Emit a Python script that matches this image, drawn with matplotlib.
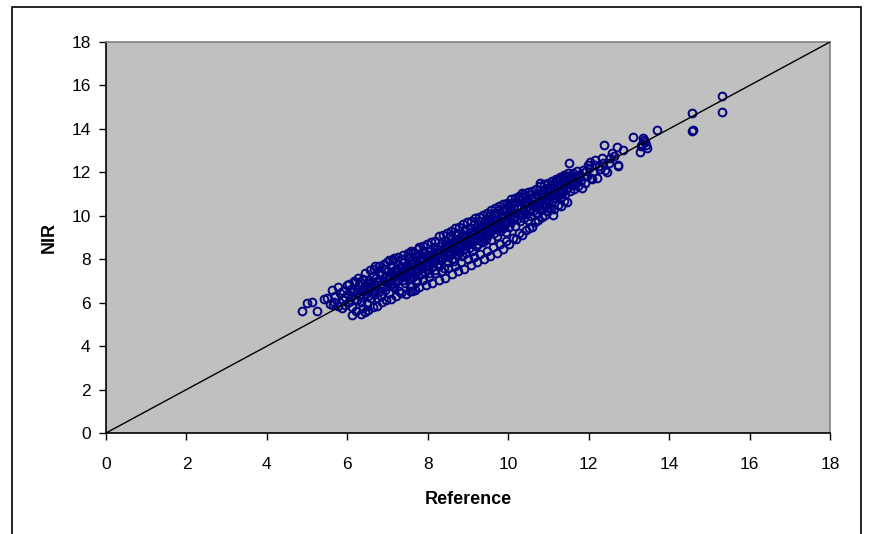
import matplotlib
matplotlib.use("Agg")
import matplotlib.pyplot as plt
from matplotlib.patches import Rectangle

reference = [
    4.87, 4.99, 5.11, 5.24, 5.42, 5.49, 5.57, 5.61, 5.70, 5.78,
    5.83, 5.88, 5.94, 5.98, 5.95, 5.90, 5.86, 5.76, 5.68, 5.65,
    6.02, 6.05, 6.08, 6.10, 6.12, 6.15, 6.18, 6.20, 6.23, 6.25,
    6.28, 6.30, 6.32, 6.34, 6.36, 6.38, 6.40, 6.42, 6.44, 6.46,
    6.48, 6.49, 6.50, 6.52, 6.54, 6.56, 6.58, 6.60, 6.62, 6.64,
    6.66, 6.68, 6.69, 6.70, 6.72, 6.74, 6.76, 6.78, 6.80, 6.82,
    6.84, 6.86, 6.88, 6.90, 6.92, 6.94, 6.96, 6.98, 7.00, 7.02,
    7.04, 7.06, 7.08, 7.10, 7.12, 7.14, 7.16, 7.18, 7.20, 7.22,
    7.24, 7.26, 7.28, 7.30, 7.32, 7.34, 7.36, 7.38, 7.40, 7.42,
    7.44, 7.46, 7.48, 7.50, 7.52, 7.54, 7.56, 7.58, 7.60, 7.62,
    7.64, 7.66, 7.68, 7.70, 7.72, 7.74, 7.76, 7.78, 7.80, 7.82,
    7.84, 7.86, 7.88, 7.90, 7.92, 7.94, 7.96, 7.98, 8.00, 8.02,
    8.04, 8.06, 8.08, 8.10, 8.12, 8.14, 8.16, 8.18, 8.20, 8.22,
    8.24, 8.26, 8.28, 8.30, 8.32, 8.34, 8.36, 8.38, 8.40, 8.42,
    8.44, 8.46, 8.48, 8.50, 8.52, 8.54, 8.56, 8.58, 8.60, 8.62,
    8.64, 8.66, 8.68, 8.70, 8.72, 8.74, 8.76, 8.78, 8.80, 8.82,
    8.84, 8.86, 8.88, 8.90, 8.92, 8.94, 8.96, 8.98, 9.00, 9.02,
    9.04, 9.06, 9.08, 9.10, 9.12, 9.14, 9.16, 9.18, 9.20, 9.22,
    9.24, 9.26, 9.28, 9.30, 9.32, 9.34, 9.36, 9.38, 9.40, 9.42,
    9.44, 9.46, 9.48, 9.50, 9.52, 9.54, 9.56, 9.58, 9.60, 9.62,
    9.64, 9.66, 9.68, 9.70, 9.72, 9.74, 9.76, 9.78, 9.80, 9.82,
    9.84, 9.86, 9.88, 9.90, 9.92, 9.94, 9.96, 9.98, 10.00, 10.02,
    10.04, 10.06, 10.08, 10.10, 10.12, 10.14, 10.16, 10.18, 10.20, 10.22,
    10.24, 10.26, 10.28, 10.30, 10.32, 10.34, 10.36, 10.38, 10.40, 10.42,
    10.44, 10.46, 10.48, 10.50, 10.52, 10.54, 10.56, 10.58, 10.60, 10.62,
    10.64, 10.66, 10.68, 10.70, 10.72, 10.74, 10.76, 10.78, 10.80, 10.82,
    10.84, 10.86, 10.88, 10.90, 10.92, 10.94, 10.96, 10.98, 11.00, 11.02,
    11.04, 11.06, 11.08, 11.10, 11.12, 11.14, 11.16, 11.18, 11.20, 11.22,
    11.24, 11.26, 11.28, 11.30, 11.32, 11.34, 11.36, 11.38, 11.40, 11.42,
    11.44, 11.46, 11.48, 11.50, 11.52, 11.54, 11.56, 11.58, 11.60, 11.62,
    11.64, 11.66, 11.68, 11.70, 11.72, 11.74, 11.76, 11.80, 11.85, 11.90,
    11.95, 12.00, 12.03, 12.08, 12.12, 12.20, 12.25, 12.32, 12.38, 12.45,
    12.50, 12.57, 12.70, 12.74, 12.74, 12.86, 13.10, 13.28, 13.35, 13.40,
    13.44, 13.69, 14.57, 14.57, 14.60, 15.31, 15.31, 13.30, 12.40, 12.15,
    6.05, 6.11, 6.17, 6.22, 6.27, 6.33, 6.39, 6.45, 6.51, 6.57,
    6.63, 6.67, 6.73, 6.79, 6.85, 6.91, 6.97, 7.03, 7.09, 7.15,
    7.21, 7.27, 7.33, 7.39, 7.45, 7.51, 7.57, 7.63, 7.69, 7.75,
    7.55, 7.62, 7.71, 7.79, 7.87, 7.95, 8.03, 8.11, 8.19, 8.27,
    8.35, 8.43, 8.51, 8.59, 8.67, 8.75, 8.83, 8.91, 8.99, 9.07,
    9.15, 9.23, 9.31, 9.39, 9.47, 9.55, 9.63, 9.71, 9.79, 9.87,
    9.95, 10.03, 10.11, 10.19, 10.27, 10.35, 10.43, 10.51, 10.59, 10.67,
    10.75, 10.83, 10.91, 10.99, 11.07, 11.15, 11.23, 11.31, 11.39, 11.47,
    7.58, 7.68, 7.78, 7.88, 7.98, 8.08, 8.18, 8.28, 8.38, 8.48,
    8.58, 8.68, 8.78, 8.88, 8.98, 9.08, 9.18, 9.28, 9.38, 9.48,
    9.58, 9.68, 9.78, 9.88, 9.98, 10.08, 10.18, 10.28, 10.38, 10.48,
    10.58, 10.68, 10.78, 10.88, 10.98, 11.08, 11.18, 11.28, 11.38, 11.48,
    7.03, 7.13, 7.23, 7.33, 7.43, 7.53, 7.63, 7.73, 7.83, 7.93,
    8.03, 8.13, 8.23, 8.33, 8.43, 8.53, 8.63, 8.73, 8.83, 8.93,
    9.03, 9.13, 9.23, 9.33, 9.43, 9.53, 9.63, 9.73, 9.83, 9.93,
    10.03, 10.13, 10.23, 10.33, 10.43, 10.53, 10.63, 10.73, 10.83, 10.93,
    11.03, 11.13, 11.23, 11.33, 11.43, 11.53, 11.63, 11.73, 11.83, 11.93,
    12.15, 12.28, 12.35, 12.52, 12.62, 13.32, 13.38, 13.42, 12.05, 11.98,
    6.55, 6.65, 6.75, 6.85, 6.95, 7.05, 7.15, 7.25, 7.35, 7.45,
    7.55, 7.65, 7.75, 7.85, 7.95, 8.05, 8.15, 8.25, 8.35, 8.45,
    8.55, 8.65, 8.75, 8.85, 8.95, 9.05, 9.15, 9.25, 9.35, 9.45,
    9.55, 9.65, 9.75, 9.85, 9.95, 10.05, 10.15, 10.25, 10.35, 10.45,
    10.55, 10.65, 10.75, 10.85, 10.95, 11.05, 11.15, 11.25, 11.35, 11.45,
]

nir = [
    5.63, 5.97, 6.05, 5.63, 6.15, 6.20, 5.95, 6.58, 6.30, 5.85,
    6.45, 6.10, 5.89, 6.81, 6.25, 6.55, 5.75, 6.70, 6.05, 5.90,
    6.40, 6.05, 6.65, 6.25, 5.80, 6.50, 6.95, 6.15, 6.12, 6.60,
    6.35, 6.80, 6.97, 6.05, 6.55, 6.25, 7.10, 6.70, 5.58, 6.40,
    5.95, 6.90, 6.60, 6.30, 7.05, 6.75, 6.20, 6.95, 6.50, 7.25,
    6.85, 6.40, 7.69, 6.65, 7.15, 6.20, 6.95, 7.40, 6.55, 7.05,
    6.30, 7.30, 6.80, 7.55, 7.00, 6.60, 7.20, 7.85, 6.90, 7.45,
    6.45, 7.10, 7.70, 6.85, 7.35, 7.95, 6.70, 7.25, 7.55, 6.95,
    7.40, 7.80, 6.55, 7.15, 7.65, 7.35, 8.00, 7.05, 7.50, 7.85,
    6.90, 7.45, 7.70, 7.25, 8.05, 7.55, 7.10, 7.80, 7.40, 7.95,
    7.20, 7.65, 8.15, 7.50, 7.05, 7.85, 7.45, 8.25, 7.70, 7.30,
    8.00, 7.60, 7.90, 8.35, 7.40, 7.75, 8.10, 7.55, 8.20, 7.85,
    7.35, 8.40, 8.00, 7.65, 8.25, 7.95, 8.55, 7.50, 8.15, 7.80,
    8.45, 8.05, 7.70, 8.60, 8.30, 7.95, 8.75, 8.20, 7.60, 8.50,
    8.10, 8.85, 8.35, 7.85, 8.65, 8.25, 9.05, 8.45, 8.00, 8.75,
    8.40, 7.90, 8.95, 8.60, 8.20, 9.20, 8.70, 8.35, 9.00, 8.55,
    8.15, 9.15, 8.80, 8.45, 9.35, 8.65, 8.30, 9.10, 8.90, 8.50,
    9.45, 8.75, 9.20, 8.40, 9.00, 9.60, 8.85, 9.30, 8.60, 9.50,
    9.05, 8.70, 9.75, 9.25, 8.85, 9.55, 9.10, 8.80, 9.65, 9.35,
    8.95, 9.85, 9.50, 9.10, 10.00, 9.30, 8.90, 9.70, 9.45, 9.90,
    9.20, 9.60, 10.15, 9.40, 9.05, 9.85, 9.55, 10.25, 9.30, 9.75,
    10.05, 9.45, 9.90, 10.35, 9.60, 9.25, 10.10, 9.80, 10.45, 9.50,
    10.00, 10.25, 9.70, 10.60, 9.95, 10.30, 9.55, 10.15, 10.70, 9.85,
    10.40, 10.05, 10.80, 9.75, 10.35, 11.04, 10.20, 9.90, 10.55, 10.90,
    10.10, 10.45, 9.80, 10.65, 10.30, 10.95, 10.00, 10.50, 10.75, 10.20,
    10.85, 10.40, 11.00, 10.15, 10.60, 10.90, 10.35, 11.50, 10.70, 10.25,
    11.05, 10.55, 10.85, 11.20, 10.45, 10.95, 11.30, 10.65, 11.10, 10.40,
    10.90, 11.25, 10.70, 11.40, 10.04, 11.05, 11.50, 10.80, 11.20, 11.60,
    10.95, 11.35, 11.70, 11.10, 10.85, 11.55, 11.25, 11.80, 11.00, 11.45,
    11.65, 11.30, 11.85, 12.42, 11.50, 11.15, 11.75, 11.40, 11.95, 11.60,
    11.25, 11.85, 11.55, 12.05, 11.70, 11.35, 11.90, 11.65, 12.10, 11.50,
    11.85, 12.20, 12.49, 11.70, 12.00, 11.73, 12.30, 12.65, 13.26, 12.03,
    12.45, 12.90, 13.18, 12.34, 12.29, 13.03, 13.64, 12.95, 13.58, 13.41,
    13.11, 13.95, 14.72, 13.92, 13.95, 15.51, 14.77, 13.20, 12.10, 12.35,
    6.85, 5.45, 7.00, 5.60, 7.15, 5.50, 5.75, 7.35, 5.65, 7.50,
    5.80, 7.55, 5.85, 7.70, 6.05, 7.80, 6.10, 7.95, 6.15, 8.05,
    6.30, 8.10, 6.45, 8.20, 6.40, 8.30, 6.55, 8.35, 6.60, 8.45,
    6.75, 6.55, 6.95, 6.70, 7.05, 6.80, 7.20, 6.90, 7.35, 7.05,
    7.45, 7.15, 7.60, 7.30, 7.70, 7.45, 7.85, 7.55, 8.00, 7.75,
    8.10, 7.85, 8.25, 8.00, 8.40, 8.15, 8.55, 8.30, 8.70, 8.45,
    8.85, 8.70, 9.00, 8.95, 9.20, 9.10, 9.35, 9.45, 9.50, 9.70,
    9.80, 9.95, 10.05, 10.20, 10.35, 10.30, 10.50, 10.45, 10.70, 10.65,
    8.40, 8.30, 8.55, 8.60, 8.70, 8.80, 8.85, 9.05, 9.10, 9.20,
    9.30, 9.45, 9.50, 9.60, 9.70, 9.75, 9.90, 9.95, 10.05, 10.15,
    10.25, 10.35, 10.45, 10.55, 10.60, 10.75, 10.80, 10.90, 11.00, 11.10,
    11.15, 11.25, 11.35, 11.45, 11.50, 11.60, 11.70, 11.80, 11.90, 11.95,
    7.25, 6.75, 7.05, 7.60, 7.20, 7.35, 7.85, 7.55, 7.65, 8.15,
    8.05, 7.90, 8.35, 8.10, 8.70, 8.40, 8.55, 8.90, 8.65, 9.05,
    8.80, 9.25, 9.00, 9.45, 9.20, 9.70, 9.40, 9.55, 9.95, 9.65,
    10.15, 9.85, 10.35, 10.05, 10.70, 10.25, 10.55, 10.45, 10.95, 10.60,
    11.15, 10.80, 11.40, 11.05, 11.25, 11.70, 11.45, 11.85, 11.30, 12.05,
    12.55, 12.15, 12.45, 12.65, 12.75, 13.30, 13.48, 13.25, 11.75, 12.35,
    6.75, 6.45, 7.00, 6.70, 7.25, 6.85, 7.45, 7.05, 7.30, 7.60,
    7.35, 7.80, 7.50, 8.05, 7.70, 8.20, 7.85, 8.30, 8.05, 8.60,
    8.20, 8.80, 8.50, 9.05, 8.70, 9.25, 8.90, 9.40, 9.05, 9.60,
    9.25, 9.80, 9.45, 10.00, 9.70, 10.20, 9.85, 10.40, 10.10, 10.60,
    10.30, 10.80, 10.55, 11.00, 10.75, 11.20, 10.95, 11.45, 11.15, 11.55,
]

line_ends = [0, 18]
x_ticks = [0, 2, 4, 6, 8, 10, 12, 14, 16, 18]
y_ticks = [0, 2, 4, 6, 8, 10, 12, 14, 16, 18]

plt.rcParams['font.family'] = ['Liberation Sans', 'DejaVu Sans']

fig = plt.figure(figsize=(8.7, 5.34), dpi=100)
fig.patches.append(Rectangle((12 / 870, -0.05), (861 - 12) / 870, (534 - 7) / 534 + 0.05,
                             transform=fig.transFigure, fill=False,
                             edgecolor='black', linewidth=1.2))

ax = fig.add_axes([106 / 870, (534 - 433) / 534, (830 - 106) / 870, (433 - 42) / 534])
ax.set_facecolor('#C0C0C0')

ax.plot(reference, nir, linestyle='none', marker='o', markersize=5.6,
        markerfacecolor='none', markeredgecolor='#000080', markeredgewidth=1.4,
        zorder=2)
ax.plot(line_ends, line_ends, color='black', linewidth=1.0, zorder=3)

ax.set_xlim(0, 18)
ax.set_ylim(0, 18)
ax.set_xticks(x_ticks)
ax.set_yticks(y_ticks)
ax.tick_params(direction='out', length=5, width=1, labelsize=12.5, colors='black')
ax.tick_params(axis='x', pad=12)
ax.tick_params(axis='y', pad=6)
for s in ('left', 'bottom'):
    ax.spines[s].set_color('black')
    ax.spines[s].set_linewidth(1.2)
for s in ('top', 'right'):
    ax.spines[s].set_color('#808080')
    ax.spines[s].set_linewidth(1.2)

ax.set_xlabel('Reference', fontsize=13, fontweight='bold', labelpad=14)
ax.set_ylabel('NIR', fontsize=13, fontweight='bold', labelpad=10)

fig.savefig('out.png', dpi=100)
